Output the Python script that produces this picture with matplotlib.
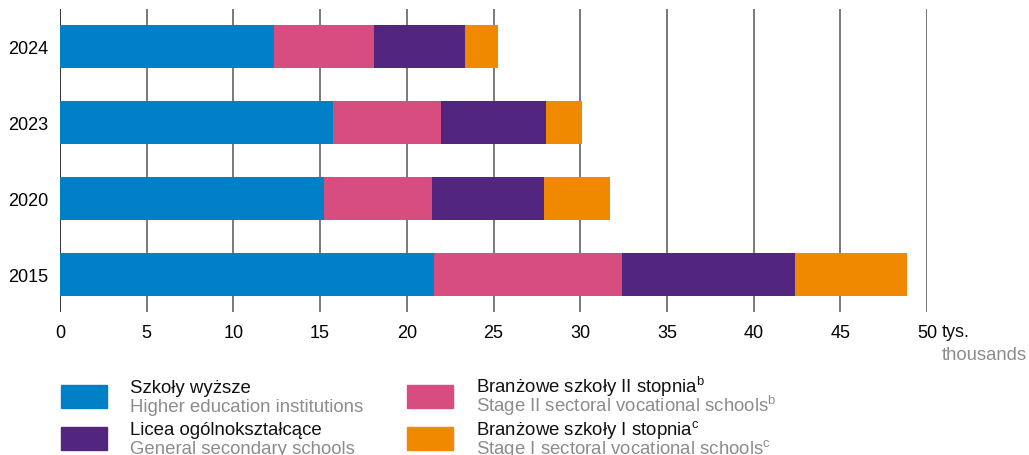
import matplotlib
matplotlib.use("Agg")
import matplotlib.pyplot as plt
from matplotlib.patches import Rectangle

plt.rcParams['font.family'] = ['Liberation Sans', 'DejaVu Sans']
plt.rcParams['mathtext.fontset'] = 'custom'
plt.rcParams['mathtext.rm'] = 'Liberation Sans'
plt.rcParams['mathtext.it'] = 'Liberation Sans'

years = ["2015", "2020", "2023", "2024"]
higher = [21.58, 15.25, 15.75, 12.35]
stage2 = [10.84, 6.23, 6.22, 5.75]
general = [9.94, 6.42, 6.03, 5.27]
stage1 = [6.51, 3.82, 2.10, 1.88]
xticks = [0, 5, 10, 15, 20, 25, 30, 35, 40, 45, 50]

series = [
    (higher, "#0180C7", "Szkoły wyższe", "Higher education institutions"),
    (stage2, "#D84D7F", r"Branżowe szkoły II stopnia$^{\mathrm{b}}$", r"Stage II sectoral vocational schools$^{\mathrm{b}}$"),
    (general, "#52267F", "Licea ogólnokształcące", "General secondary schools"),
    (stage1, "#F08800", r"Branżowe szkoły I stopnia$^{\mathrm{c}}$", r"Stage I sectoral vocational schools$^{\mathrm{c}}$"),
]

W, H = 1029, 456
fig = plt.figure(figsize=(W / 100, H / 100), dpi=100)
ax = fig.add_axes([60 / W, 1 - 313 / H, (927 - 60) / W, (313 - 10) / H])

ypos = list(range(len(years)))
left = [0.0] * len(years)
for vals, col, _, _ in series:
    ax.barh(ypos, vals, left=left, height=0.57, color=col, zorder=3, linewidth=0)
    left = [l + v for l, v in zip(left, vals)]

ax.set_xlim(0, 50)
ax.set_ylim(-0.5, 3.5)
ax.set_yticks(ypos)
ax.set_yticklabels(years, fontsize=13)
ax.set_xticks(xticks)
ax.set_xticklabels([str(t) for t in xticks], fontsize=13)
ax.tick_params(axis='y', length=0, pad=8.6)
ax.tick_params(axis='x', length=0, pad=8.5)
for t in xticks:
    ax.axvline(t, color="#222222" if t == 0 else "#555555", lw=1.3 if t == 0 else 1.1, zorder=1)
for s in ax.spines.values():
    s.set_visible(False)

ov = fig.add_axes([0, 0, 1, 1])
ov.set_xlim(0, W)
ov.set_ylim(H, 0)
ov.axis('off')
ov.text(942, 337, "tys.", fontsize=13, ha='left', va='baseline', color="#111111")
ov.text(1027, 360, "thousands", fontsize=13.3, ha='right', va='baseline', color="#8c8c8c")

pos = [(61, 386), (407, 386), (61, 428), (407, 428)]
for (vals, col, pl, en), (x, y) in zip(series, pos):
    ov.add_patch(Rectangle((x, y), 46, 23, color=col))
    ov.text(x + 69, y + 7, pl, fontsize=13.4, ha='left', va='baseline', color="#111111")
    ov.text(x + 69, y + 26.5, en, fontsize=13.4, ha='left', va='baseline', color="#8c8c8c")

fig.savefig("out.png", dpi=100)
